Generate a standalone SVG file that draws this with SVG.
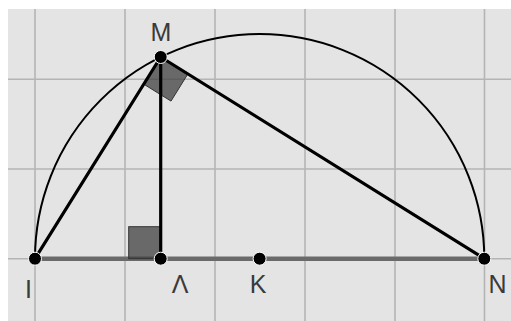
<svg xmlns="http://www.w3.org/2000/svg" width="511" height="321" viewBox="0 0 511 321">
<style>
.grid{stroke:#b4b4b4;stroke-width:1.6;fill:none}
.seg{stroke:#000;stroke-width:3.2;fill:none;stroke-linecap:round}
.base{stroke:#6a6a6a;stroke-width:4.5;fill:none}
.arc{stroke:#000;stroke-width:2;fill:none}
.ra{fill:#404040;fill-opacity:0.75;stroke:#333;stroke-width:1}
.pt{fill:#000;stroke:#fff;stroke-width:1}
.lbl{font-family:"Liberation Sans",Arial,sans-serif;font-size:25px;fill:#3a3a3a}
</style>
<rect x="0" y="0" width="511" height="321" fill="#fff"/>
<rect x="8" y="9" width="503" height="312" fill="#e4e4e4"/>
<g id="grid" class="grid">
<line x1="35" y1="9" x2="35" y2="321"/>
<line x1="125" y1="9" x2="125" y2="321"/>
<line x1="215" y1="9" x2="215" y2="321"/>
<line x1="305" y1="9" x2="305" y2="321"/>
<line x1="395" y1="9" x2="395" y2="321"/>
<line x1="484.5" y1="9" x2="484.5" y2="321"/>
<line x1="8" y1="79.3" x2="511" y2="79.3"/>
<line x1="8" y1="169" x2="511" y2="169"/>
<line x1="8" y1="258.7" x2="511" y2="258.7"/>
</g>
<g id="connectors">
<path class="arc" d="M35 258.7 A224.65 224.65 0 0 1 484.3 258.7"/>
<line class="base" x1="35" y1="258.7" x2="484.3" y2="258.7"/>
<rect class="ra" x="128.7" y="226.7" width="32" height="32"/>
<polygon class="ra" points="160.7,57 143.8,84.2 171,101.1 187.9,73.9"/>
<line class="seg" x1="35" y1="258.7" x2="160.7" y2="57"/>
<line class="seg" x1="160.7" y1="57" x2="160.7" y2="258.7"/>
<line class="seg" x1="160.7" y1="57" x2="484.3" y2="258.7"/>
</g>
<g id="M"><circle class="pt" cx="160.7" cy="57" r="6.5"/><text class="lbl" x="161" y="41" text-anchor="middle">M</text></g>
<g id="I"><circle class="pt" cx="35" cy="258.7" r="6.5"/><text class="lbl" x="28.5" y="298" text-anchor="middle">I</text></g>
<g id="L"><circle class="pt" cx="160.7" cy="258.7" r="6.5"/><text class="lbl" x="180" y="293.3" text-anchor="middle">Λ</text></g>
<g id="K"><circle class="pt" cx="259.6" cy="258.7" r="6.5"/><text class="lbl" x="258" y="293.3" text-anchor="middle">K</text></g>
<g id="N"><circle class="pt" cx="484.3" cy="258.7" r="6.5"/><text class="lbl" x="497.5" y="292.5" text-anchor="middle">N</text></g>
</svg>
